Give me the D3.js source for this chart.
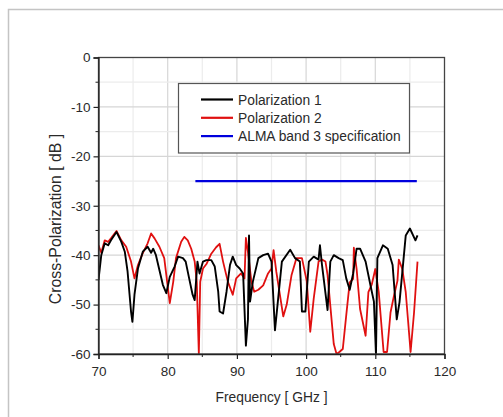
<!DOCTYPE html>
<html>
<head>
<meta charset="utf-8">
<script src="https://cdn.jsdelivr.net/npm/d3@7"></script>
<style>
  body { margin: 0; background: #fff; }
  svg text { font-family: "Liberation Sans", Arial, sans-serif; fill: #2a2a2a; }
</style>
</head>
<body>
<div id="canvas"></div>
<script>
// frequency [GHz], cross-pol [dB]
var pol1Freq = [70.0,70.4,70.9,71.4,71.8,72.6,73.3,73.8,74.2,74.7,74.9,75.2,75.7,76.4,77.1,77.6,77.9,78.3,78.8,79.3,79.8,80.3,81.0,81.5,82.2,82.6,83.1,83.6,83.9,84.3,84.6,85.1,85.6,86.3,86.8,87.3,87.5,88.0,88.5,89.0,89.4,89.9,90.4,90.9,91.3,91.6,91.75,91.9,92.3,93.1,93.8,94.5,95.0,95.5,96.5,97.7,98.4,99.1,99.4,99.9,100.4,101.1,101.8,102.0,102.3,103.1,103.5,104.0,104.7,105.3,105.8,106.3,106.8,107.3,107.8,108.6,109.3,109.8,110.1,110.3,111.1,111.8,112.5,113.1,113.5,114.0,114.4,115.0,115.8,116.1];
var pol1Db   = [-45,-40,-37.6,-38,-37,-35.3,-37.3,-39.3,-43.3,-51.4,-53.5,-48,-42.7,-39.3,-38.3,-39.5,-38.7,-40,-43,-46,-47.7,-44.4,-42.3,-40.3,-40.6,-41.3,-44.7,-48,-49.1,-41.3,-43.7,-41.3,-41,-41,-42.3,-47.4,-51.4,-51.8,-47.4,-42,-40.3,-42,-42.7,-43.7,-58.3,-52.9,-36,-49.4,-45.4,-40.6,-40,-39.7,-41.3,-55.2,-41.3,-38.9,-40.6,-41.3,-51.4,-51.4,-41.3,-40.3,-40.9,-38,-42,-51.1,-41.3,-40,-40.6,-41,-44.7,-47,-43.7,-38.7,-38.7,-41.3,-46.1,-49.4,-60,-40.6,-38,-38.7,-42,-53,-49.5,-42,-36,-34.6,-37,-36];

var pol2Freq = [70.0,70.4,70.9,71.4,71.8,72.6,73.3,74.0,74.7,75.2,75.7,76.4,77.1,77.6,78.1,78.8,79.5,80.3,80.8,81.2,81.95,82.4,82.9,83.4,83.9,84.2,84.5,84.7,85.1,85.6,86.3,87.0,87.5,88.0,88.7,89.4,89.9,90.6,91.1,91.3,91.6,92.1,92.5,93.1,93.8,94.5,95.0,95.3,95.7,96.7,97.2,97.9,98.6,99.4,100.1,100.6,101.1,101.8,102.3,102.8,103.1,104.0,104.4,104.8,105.3,105.8,106.3,106.8,106.9,107.3,107.8,108.6,109.0,109.5,110.0,110.5,111.2,111.7,112.2,112.7,113.2,113.4,113.9,114.4,115.1,115.6,116.1];
var pol2Db   = [-38,-39.5,-37,-37.3,-36.6,-35.1,-37,-38.3,-41.3,-44.7,-42,-39.6,-37.6,-35.6,-36.6,-38.3,-40.6,-49.7,-45.4,-40.6,-37.3,-36.3,-37,-38.7,-41.3,-45.4,-60,-45.4,-42.7,-41.8,-39.7,-38.4,-37.7,-41.3,-45.4,-48,-44.7,-43.7,-44.7,-36.5,-39.4,-45.4,-47.4,-47,-46.1,-43.7,-42.7,-39,-43.4,-52.4,-50,-44,-40.6,-40.6,-45.3,-55.5,-48.8,-41.3,-40.9,-41.3,-44,-58,-60,-59.6,-59,-52.2,-45.5,-44.8,-38.5,-42.8,-50.9,-56.3,-47.5,-45.9,-42.8,-47.5,-59.6,-59.6,-51.6,-48.2,-45.2,-40.9,-42.8,-47.5,-59.6,-51.6,-41.3];

var specFreq = [84, 116];
var specDb   = [-25, -25];

var xTicks = [70,80,90,100,110,120];
var yTicks = [0,-10,-20,-30,-40,-50,-60];
var legendLabels = ['Polarization 1','Polarization 2','ALMA band 3 specification'];
var legendColors = ['#000000','#e01010','#0000dd'];

var svg = d3.select('#canvas').append('svg')
  .attr('width', 503)
  .attr('height', 417);

// outer frame of the figure (cropped on right / bottom)
svg.append('rect')
  .attr('x', 8.5).attr('y', 9.5)
  .attr('width', 520).attr('height', 430)
  .attr('fill', 'none')
  .attr('stroke', '#c4c4c4')
  .attr('stroke-width', 1.5);

var pL = 98.5, pT = 57.5, pR = 444.5, pB = 354;

var x = d3.scaleLinear().domain([70,120]).range([pL, pR]);
var y = d3.scaleLinear().domain([-60,0]).range([pB, pT]);

// grid
var grid = svg.append('g');
d3.range(75,120,5).forEach(function(v) {
  grid.append('line')
    .attr('x1', x(v)).attr('x2', x(v)).attr('y1', pT).attr('y2', pB)
    .attr('stroke', v % 10 == 0 ? '#d6d6d6' : '#ececec').attr('stroke-width', 1.2);
});
d3.range(-55,0,5).forEach(function(v) {
  grid.append('line')
    .attr('x1', pL).attr('x2', pR).attr('y1', y(v)).attr('y2', y(v))
    .attr('stroke', v % 10 == 0 ? '#d6d6d6' : '#ececec').attr('stroke-width', 1.2);
});

var plot = svg.append('g');
svg.append('clipPath').attr('id','clip')
  .append('rect').attr('x', pL).attr('y', pT).attr('width', pR-pL).attr('height', pB-pT);

var line = d3.line().x(function(d){return x(d[0]);}).y(function(d){return y(d[1]);});

plot.append('path')
  .datum(d3.zip(specFreq, specDb))
  .attr('d', line)
  .attr('fill','none').attr('stroke', legendColors[2]).attr('stroke-width', 2.2);

plot.append('path')
  .datum(d3.zip(pol2Freq, pol2Db))
  .attr('clip-path','url(#clip)')
  .attr('d', line)
  .attr('fill','none').attr('stroke', legendColors[1]).attr('stroke-width', 1.8)
  .attr('stroke-linejoin','round');

plot.append('path')
  .datum(d3.zip(pol1Freq, pol1Db))
  .attr('clip-path','url(#clip)')
  .attr('d', line)
  .attr('fill','none').attr('stroke', legendColors[0]).attr('stroke-width', 1.9)
  .attr('stroke-linejoin','round');

// plot frame
svg.append('rect')
  .attr('x', pL).attr('y', pT).attr('width', pR-pL).attr('height', pB-pT)
  .attr('fill','none').attr('stroke','#444').attr('stroke-width', 1.3);

// axes
var xAxis = svg.append('g')
  .attr('transform','translate(0,' + pB + ')')
  .call(d3.axisBottom(x).tickValues(xTicks).tickSize(5).tickPadding(7).tickFormat(function(d){return String(d);}));
var yAxis = svg.append('g')
  .attr('transform','translate(' + pL + ',0)')
  .call(d3.axisLeft(y).tickValues(yTicks).tickSize(5).tickPadding(3).tickFormat(function(d){return String(d);}));

[xAxis, yAxis].forEach(function(a) {
  a.select('.domain').attr('stroke','#222').attr('stroke-width',1.3);
  a.selectAll('.tick line').attr('stroke','#222').attr('stroke-width',1.2);
  a.selectAll('.tick text').style('font-size','13.5px').attr('fill','#2a2a2a');
});

// minor ticks
d3.range(75,120,10).forEach(function(v) {
  svg.append('line').attr('x1', x(v)).attr('x2', x(v)).attr('y1', pB).attr('y2', pB+3)
    .attr('stroke','#222');
});
d3.range(-55,0,10).forEach(function(v) {
  svg.append('line').attr('x1', pL-3).attr('x2', pL).attr('y1', y(v)).attr('y2', y(v))
    .attr('stroke','#222');
});

// axis titles
svg.append('text')
  .attr('x', (pL+pR)/2).attr('y', 402)
  .attr('text-anchor','middle')
  .style('font-size','13.8px')
  .text('Frequency [ GHz ]');

svg.append('text')
  .attr('transform','translate(61,219) rotate(-90)')
  .attr('text-anchor','middle')
  .style('font-size','15.8px')
  .text('Cross-Polarization [ dB ]');

// legend
var legend = svg.append('g');
legend.append('rect')
  .attr('x', 178.5).attr('y', 83.5).attr('width', 231).attr('height', 69.5)
  .attr('fill','#fff').attr('stroke','#555').attr('stroke-width', 1.2);

legendLabels.forEach(function(lab, i) {
  var yy = 99.5 + i*18.3;
  legend.append('line')
    .attr('x1', 201).attr('x2', 233).attr('y1', yy).attr('y2', yy)
    .attr('stroke', legendColors[i]).attr('stroke-width', 2.2);
  legend.append('text')
    .attr('x', 238).attr('y', yy + 5)
    .style('font-size','13.8px')
    .text(lab);
});
</script>
</body>
</html>
